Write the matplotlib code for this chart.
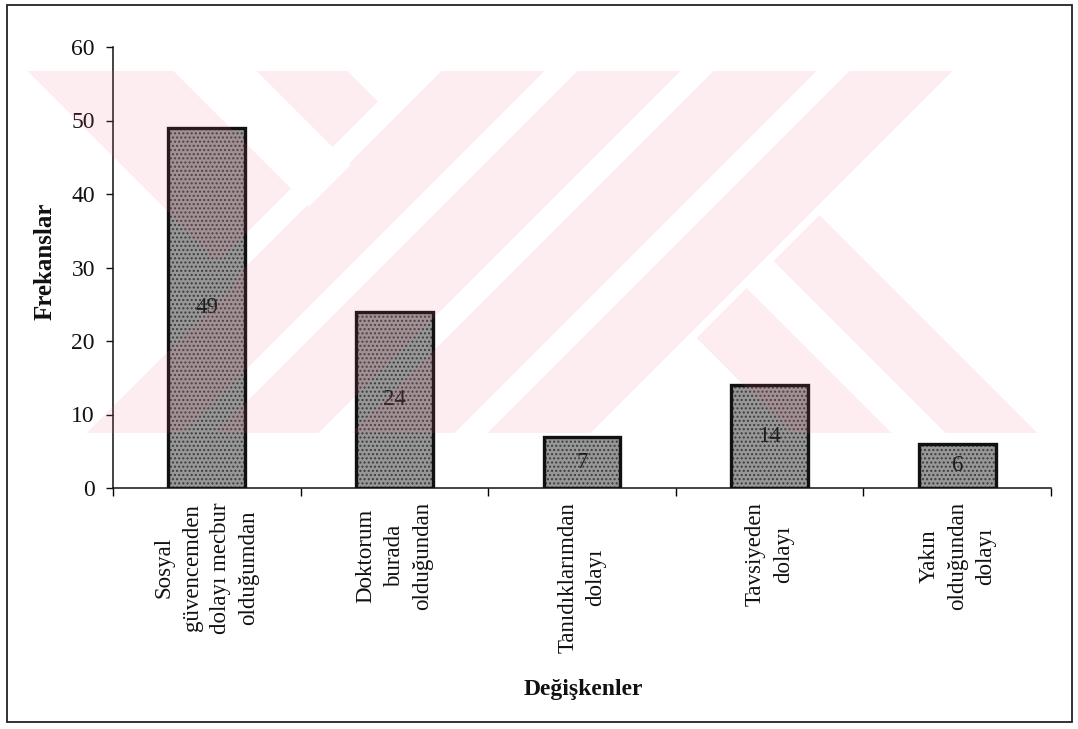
import numpy as np
import matplotlib
matplotlib.use("Agg")
import matplotlib.pyplot as plt
from matplotlib.patches import Rectangle

# Data
categories = [
    "Sosyal\ngüvencemden\ndolayı mecbur\nolduğumdan",
    "Doktorum\nburada\nolduğundan",
    "Tanıdıklarımdan\ndolayı",
    "Tavsiyeden\ndolayı",
    "Yakın\nolduğundan\ndolayı",
]
frequencies = [49, 24, 7, 14, 6]
y_ticks = [0, 10, 20, 30, 40, 50, 60]
x_title = "Değişkenler"
y_title = "Frekanslar"

plt.rcParams["font.family"] = ["Liberation Serif", "DejaVu Serif"]
plt.rcParams["hatch.linewidth"] = 1.0

W, H = 1078, 729
fig = plt.figure(figsize=(W / 100, H / 100), dpi=100)
fig.patch.set_facecolor("white")

ax = fig.add_axes([113 / W, 1 - 488 / H, (1051 - 113) / W, (488 - 47) / H])
x = np.arange(len(categories))

# textured fill, then a heavy outline on top
ax.bar(x, frequencies, width=0.41, color="#979797", hatch="....",
       edgecolor="#3c3c3c", linewidth=0, zorder=2)
ax.bar(x, frequencies, width=0.41, fill=False, edgecolor="#111111",
       linewidth=2.4, zorder=3)

for xi, v in zip(x, frequencies):
    ax.text(xi, v / 2, str(v), ha="center", va="center", fontsize=16.5,
            color="#1e1e1e", zorder=4)

ax.set_xlim(-0.5, len(categories) - 0.5)
ax.set_ylim(0, 60)
ax.set_yticks(y_ticks)
ax.set_yticklabels([str(t) for t in y_ticks])
ax.tick_params(axis="y", direction="out", length=5, width=1, pad=8,
               labelsize=17, colors="#111111")

ax.set_xticks(x)
ax.set_xticklabels(categories, rotation=90, fontsize=16.5, va="top",
                   ha="center", linespacing=1.45, color="#111111")
for lbl in ax.get_xticklabels():
    lbl.set_multialignment("center")
ax.tick_params(axis="x", which="major", length=0, pad=10)
ax.set_xticks(np.arange(-0.5, len(categories)), minor=True)
ax.tick_params(axis="x", which="minor", direction="out", length=6, width=1)

for side in ("top", "right"):
    ax.spines[side].set_visible(False)
for side in ("left", "bottom"):
    ax.spines[side].set_color("#111111")
    ax.spines[side].set_linewidth(1.1)

fig.text(45 / W, 1 - 261 / H, y_title, rotation=90, ha="center", va="center",
         fontsize=18, fontweight="bold", color="#111111")
fig.text(583 / W, 1 - 689 / H, x_title, ha="center", va="center",
         fontsize=17, fontweight="bold", color="#111111")

# outer frame
fig.patches.append(Rectangle((7 / W, 1 - 722 / H), (1072 - 7) / W, (722 - 5) / H,
                             transform=fig.transFigure, fill=False,
                             edgecolor="#222222", linewidth=1.3))

# faint background emblem laid over the page
yy, xx = np.mgrid[0:H, 0:W] + 0.5
s = xx + yy
d = xx - yy
band = (yy >= 71) & (yy <= 433) & (xx >= 28) & (xx <= 1040)
gap = np.zeros_like(band)
gap |= (d < -43) & (s < 520)
gap |= (s > 1034) & (d > 604)
gap |= (s > 1034) & (d < 359)
gap |= (s > 1034) & (d > 458) & (d < 513)
gap |= (s <= 1034) & (s >= 480) & (np.mod(s - 480, 136) < 33)
gap |= (s < 512) & (d > 276)
gap |= (d > 102) & (d < 186) & (s < 516)
mask = band & ~gap
rgba = np.zeros((H, W, 4))
rgba[mask] = (240 / 255, 100 / 255, 130 / 255, 0.115)

ov = fig.add_axes([0, 0, 1, 1], zorder=10)
ov.imshow(rgba, extent=(0, W, H, 0), interpolation="nearest", aspect="auto")
ov.set_xlim(0, W)
ov.set_ylim(H, 0)
ov.axis("off")

fig.savefig("out.png", dpi=100)
